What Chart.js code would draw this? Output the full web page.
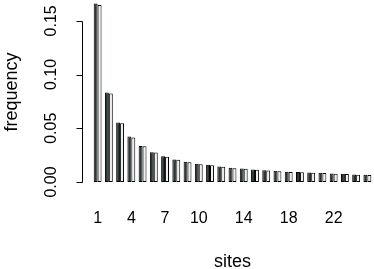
<!DOCTYPE html>
<html>
<head>
<meta charset="utf-8">
<script src="https://cdn.jsdelivr.net/npm/chart.js@4"></script>
<style>
html,body{margin:0;padding:0;background:#fff;}
#wrap{width:374px;height:269px;}
</style>
</head>
<body>
<div id="wrap"><canvas id="c" width="374" height="269"></canvas></div>
<script>
const categories = [1,2,3,4,5,6,7,8,9,10,11,12,13,14,15,16,17,18,19,20,21,22,23,24,25];
const shownLabels = [1,4,7,10,14,18,22];
const observed = [0.1660,0.0833,0.0553,0.0423,0.0335,0.0277,0.0240,0.0209,0.0188,0.0169,0.0160,0.0144,0.0132,0.0126,0.0116,0.0110,0.0104,0.0095,0.0093,0.0088,0.0086,0.0079,0.0076,0.0070,0.0067];
const expected = [0.1648,0.0823,0.0547,0.0414,0.0332,0.0274,0.0236,0.0206,0.0184,0.0166,0.0157,0.0141,0.0129,0.0123,0.0113,0.0107,0.0101,0.0093,0.0090,0.0086,0.0083,0.0077,0.0074,0.0068,0.0065];
const yTicks = [0, 0.05, 0.10, 0.15];
const yTickLabels = ["0.00", "0.05", "0.10", "0.15"];
const xTitle = "sites";
const yTitle = "frequency";

const FONT = '"Liberation Sans", Arial, Helvetica, sans-serif';

const axesPlugin = {
  id: 'rAxes',
  afterDraw(chart) {
    const ctx = chart.ctx;
    const y = chart.scales.y;
    const x = chart.scales.x;
    const ca = chart.chartArea;
    ctx.save();
    ctx.strokeStyle = '#000';
    ctx.lineWidth = 1;
    const axX = 82.5;
    const y0 = Math.round(y.getPixelForValue(yTicks[0])) + 0.5;
    const y1 = Math.round(y.getPixelForValue(yTicks[yTicks.length - 1])) + 0.5;
    ctx.beginPath();
    ctx.moveTo(axX, y0);
    ctx.lineTo(axX, y1);
    yTicks.forEach(v => {
      const py = Math.round(y.getPixelForValue(v)) + 0.5;
      ctx.moveTo(axX, py);
      ctx.lineTo(axX - 6, py);
    });
    ctx.stroke();
    ctx.fillStyle = '#000';
    ctx.font = '16px ' + FONT;
    ctx.textAlign = 'center';
    ctx.textBaseline = 'middle';
    yTicks.forEach((v, i) => {
      const py = y.getPixelForValue(v);
      ctx.save();
      ctx.translate(52, py);
      ctx.rotate(-Math.PI / 2);
      ctx.fillText(yTickLabels[i], 0, 0);
      ctx.restore();
    });
    categories.forEach((c, i) => {
      if (shownLabels.includes(c)) {
        ctx.fillText(String(c), x.getPixelForValue(i), 219);
      }
    });
    ctx.font = '18px ' + FONT;
    ctx.fillText(xTitle, (ca.left + ca.right) / 2, 262);
    ctx.save();
    ctx.translate(12, (ca.top + ca.bottom) / 2);
    ctx.rotate(-Math.PI / 2);
    ctx.fillText(yTitle, 0, 0);
    ctx.restore();
    ctx.restore();
  }
};

new Chart(document.getElementById('c'), {
  type: 'bar',
  data: {
    labels: categories,
    datasets: [
      { data: observed, backgroundColor: '#2b3535', borderColor: '#000', borderWidth: 1, borderSkipped: false, barPercentage: 1, categoryPercentage: 0.7 },
      { data: expected, backgroundColor: '#efefef', borderColor: '#000', borderWidth: 1, borderSkipped: false, barPercentage: 1, categoryPercentage: 0.7 }
    ]
  },
  options: {
    responsive: false,
    devicePixelRatio: 1,
    animation: false,
    layout: { padding: { left: 92, right: 1, top: 2, bottom: 87 } },
    plugins: { legend: { display: false }, tooltip: { enabled: false } },
    scales: {
      x: { display: false, offset: true },
      y: { display: false, min: 0, max: 0.1675 }
    }
  },
  plugins: [axesPlugin]
});
</script>
</body>
</html>
